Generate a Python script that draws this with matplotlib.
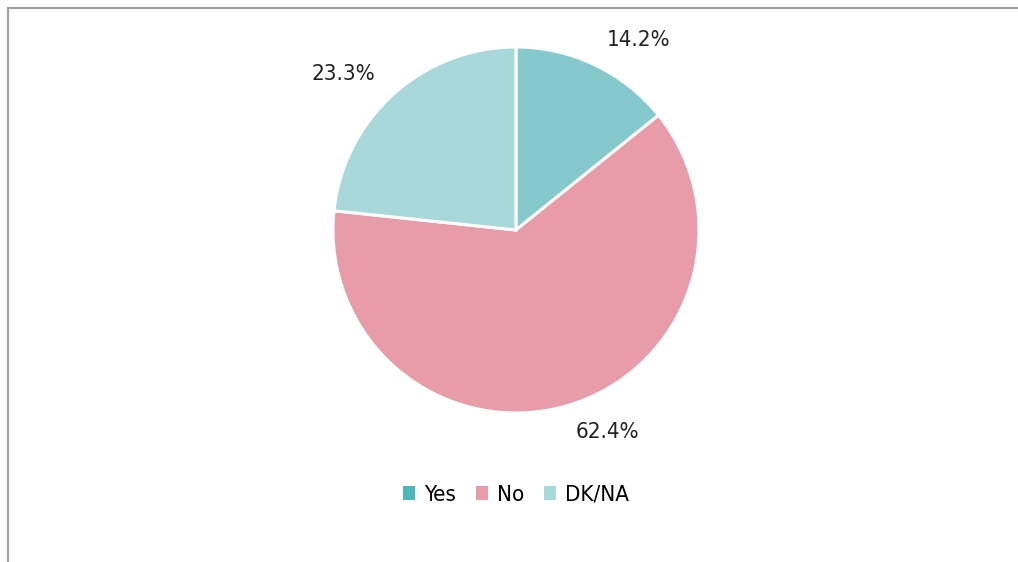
import matplotlib
matplotlib.use("Agg")
import matplotlib.pyplot as plt
from matplotlib.lines import Line2D
from matplotlib.patches import Patch

# data
categories = ["Yes", "No", "DK/NA"]
values = [14.2, 62.4, 23.3]
slice_colors = ["#85C9CC", "#E89CA9", "#A8D8DA"]
legend_colors = ["#4DB8BA", "#E89CA9", "#A8D8DA"]

plt.rcParams['font.family'] = ['DejaVu Sans']
plt.rcParams['font.stretch'] = 'condensed'

fig = plt.figure(figsize=(10.18, 5.62), dpi=100)

# pie axes: centre (516, 230) px, radius 183 px
W, H = 1018, 562
cx, cy, r = 516, 230, 183
ax = fig.add_axes([(cx - r) / W, (H - cy - r) / H, 2 * r / W, 2 * r / H])

pct_labels = ["%.1f%%" % v for v in values]
wedges, texts = ax.pie(
    values, colors=slice_colors, startangle=90, counterclock=False,
    labels=pct_labels, labeldistance=1.15,
    wedgeprops=dict(edgecolor="white", linewidth=2.2),
    textprops=dict(fontsize=16, color="#222222", fontstretch="condensed"),
)
ax.set_xlim(-1, 1)
ax.set_ylim(-1, 1)
ax.set_aspect("equal")

handles = [Patch(facecolor=c, edgecolor="none") for c in legend_colors]
fig.legend(handles, categories, loc="center", bbox_to_anchor=(cx / W, 1 - 495 / H),
           ncol=3, frameon=False, prop=dict(size=16, stretch="condensed"),
           handlelength=0.55, handleheight=0.55,
           handletextpad=0.4, columnspacing=0.9)

# partial frame (top and left)
fig.add_artist(Line2D([8 / W, 1], [1 - 8 / H, 1 - 8 / H], color="#A0A0A0", lw=1.5))
fig.add_artist(Line2D([8 / W, 8 / W], [0, 1 - 8 / H], color="#A0A0A0", lw=1.5))

fig.savefig("out.png", dpi=100)
